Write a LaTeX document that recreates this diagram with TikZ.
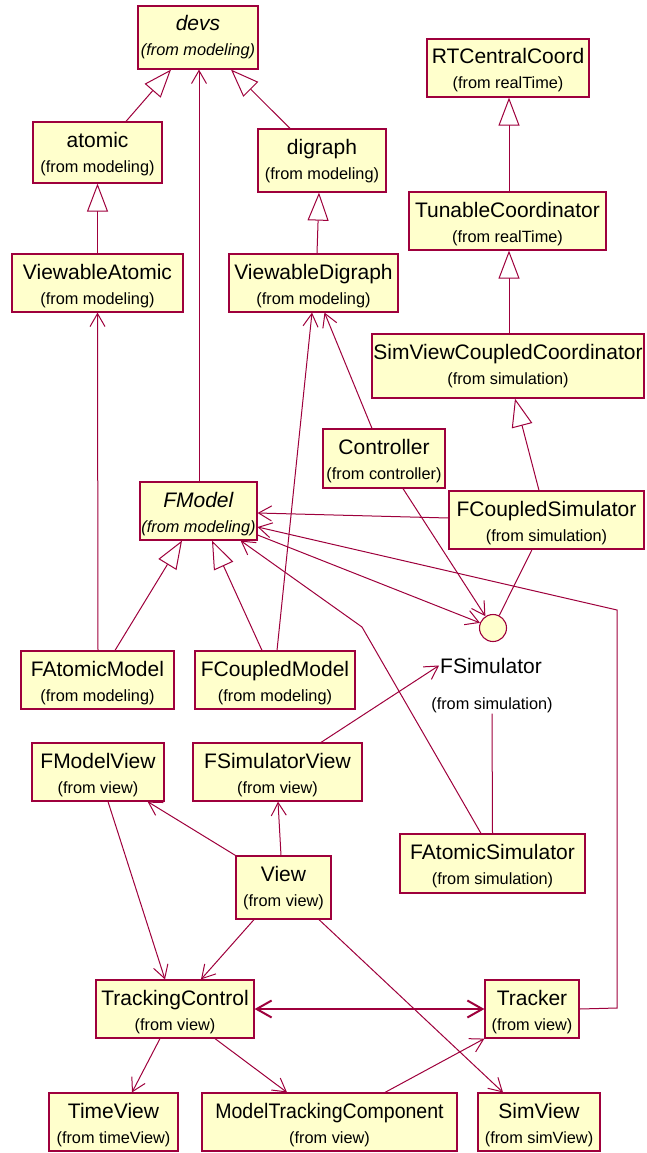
\documentclass[tikz,border=0pt]{standalone}
\usepackage{fontspec}
\setmainfont{Liberation Sans}
\usetikzlibrary{arrows.meta}
\definecolor{rline}{RGB}{158,0,60}
\definecolor{bfill}{RGB}{255,255,204}
\tikzset{
  cbox/.style={draw=rline, fill=bfill, line width=1.2pt, inner sep=0pt, rectangle},
  ttl/.style={anchor=base, inner sep=1pt, font=\fontsize{21}{24}\selectfont},
  subt/.style={anchor=base, inner sep=1pt, font=\fontsize{16.3}{19}\selectfont},
  conn/.style={draw=rline, line width=1pt},
  gen/.style={conn, -{Triangle[length=28pt,width=21pt,fill=white]}},
  assoc/.style={conn, -{Straight Barb[length=13pt,width=15pt]}},
  biassoc/.style={draw=rline, line width=2pt, {Straight Barb[length=15pt,width=17pt]}-{Straight Barb[length=15pt,width=17pt]}},
  lolli/.style={circle, draw=rline, fill=bfill, line width=1.1pt, minimum size=27pt, inner sep=0pt}
}
\newcommand\umlcls[7]{%
  \node[cbox, minimum width={(#4-#2)*1pt}, minimum height={(#5-#3)*1pt}] (#1) at ({(#2+#4)/2},{(#3+#5)/2}) {};
  \node[ttl] (#1-t) at ({(#2+#4)/2},{#3+25}) {#6};
  \node[subt] (#1-s) at ({(#2+#4)/2},{#3+50}) {#7};
}
\begin{document}
\begin{tikzpicture}[x=1pt,y=-1pt]
\useasboundingbox (0,0) rectangle (646,1153);
% classes
\umlcls{devs}{138}{6}{258}{69}{\textit{devs}}{\textit{(from modeling)}}
\umlcls{atomic}{33}{122}{162}{183}{atomic}{(from modeling)}
\umlcls{digraph}{258}{129}{386}{192}{digraph}{(from modeling)}
\umlcls{vatomic}{12}{254}{183}{312}{ViewableAtomic}{(from modeling)}
\umlcls{vdigraph}{229}{254}{398}{312}{ViewableDigraph}{(from modeling)}
\umlcls{rtcc}{427}{39}{589}{97}{RTCentralCoord}{(from realTime)}
\umlcls{tunable}{409}{192}{606}{250}{TunableCoordinator}{(from realTime)}
\umlcls{svcc}{372}{334}{644}{398}{SimViewCoupledCoordinator}{(from simulation)}
\umlcls{controller}{323}{429}{445}{488}{Controller}{(from controller)}
\umlcls{fmodel}{140}{482}{257}{540}{\textit{FModel}}{\textit{(from modeling)}}
\umlcls{fcsim}{449}{491}{644}{549}{FCoupledSimulator}{(from simulation)}
\umlcls{famodel}{21}{651}{174}{709}{FAtomicModel}{(from modeling)}
\umlcls{fcmodel}{195}{651}{355}{709}{FCoupledModel}{(from modeling)}
\umlcls{fmview}{32}{743}{164}{801}{FModelView}{(from view)}
\umlcls{fsview}{193}{743}{362}{801}{FSimulatorView}{(from view)}
\umlcls{fasim}{400}{834}{585}{893}{FAtomicSimulator}{(from simulation)}
\umlcls{view}{236}{856}{331}{919}{View}{(from view)}
\umlcls{tctrl}{96}{980}{254}{1038}{TrackingControl}{(from view)}
\umlcls{tracker}{485}{980}{579}{1038}{Tracker}{(from view)}
\umlcls{timeview}{49}{1093}{178}{1151}{TimeView}{(from timeView)}
\umlcls{mtc}{202}{1093}{457}{1151}{\scalebox{0.93}[1]{ModelTrackingComponent}}{(from view)}
\umlcls{simview}{478}{1093}{600}{1151}{SimView}{(from simView)}
% interface FSimulator
\node[lolli] (circ) at (493,628) {};
\node[ttl] (fsim) at (491,673) {FSimulator};
\node[subt] (fsims) at (492,709) {(from simulation)};
% bend points
\coordinate (trk1) at (617,1008);
\coordinate (trk2) at (617,610);
\coordinate (fas1) at (362,627);
% generalizations
\draw[gen] ([xshift=28.5pt]atomic.north) -- ([xshift=-27pt]devs.south);
\draw[gen] ([xshift=-32pt]digraph.north) -- ([xshift=33pt]devs.south);
\draw[gen] (vatomic.north) -- (atomic.south);
\draw[gen] ([xshift=3.5pt]vdigraph.north) -- ([xshift=-3pt]digraph.south);
\draw[gen] ([xshift=1.5pt]tunable.north) -- ([xshift=1pt]rtcc.south);
\draw[gen] ([xshift=1pt]svcc.north) -- ([xshift=1.5pt]tunable.south);
\draw[gen] ([xshift=-7.5pt]fcsim.north) -- ([xshift=7pt]svcc.south);
\draw[gen] ([xshift=17.5pt]famodel.north) -- ([xshift=-16.5pt]fmodel.south);
\draw[gen] ([xshift=-13pt]fcmodel.north) -- ([xshift=13.5pt]fmodel.south);
% associations
\draw[assoc] ([xshift=0.5pt]fmodel.north) -- ([xshift=1pt]devs.south);
\draw[assoc] ([xshift=0.5pt]famodel.north) -- (vatomic.south);
\draw[assoc] ([xshift=2pt]fcmodel.north) -- ([xshift=-1.5pt]vdigraph.south);
\draw[assoc] ([xshift=-12pt]controller.north) -- ([xshift=11pt]vdigraph.south);
\draw[assoc] ([yshift=2pt]fcsim.west) -- ([yshift=-2pt]fmodel.east);
\draw[assoc] (tracker.east) -- (trk1) -- (trk2) -- ([yshift=-16pt]fmodel.east);
\draw[assoc] ([yshift=-24pt]fmodel.east) -- (circ);
\draw[assoc] ([xshift=19pt]controller.south) -- (circ);
\draw[conn] ([xshift=-14.5pt]fcsim.south) -- (circ);
\draw[assoc] ([xshift=-11.5pt]fasim.north) -- (fas1) -- ([xshift=-17pt]fmodel.south east);
\draw[conn] (fasim.north) -- (fsims.south);
\draw[assoc] ([xshift=43.5pt]fsview.north) -- (fsim.west);
\draw[assoc] (view.north west) -- ([xshift=-17pt]fmview.south east);
\draw[assoc] ([xshift=-2.5pt]view.north) -- ([xshift=0.5pt]fsview.south);
\draw[assoc] ([xshift=10pt]fmview.south) -- ([xshift=-10pt]tctrl.north);
\draw[assoc] ([xshift=-29.5pt]view.south) -- ([xshift=26pt]tctrl.north);
\draw[assoc] ([xshift=35.5pt]view.south) -- ([xshift=-36pt]simview.north);
\draw[biassoc] (tctrl.east) -- (tracker.west);
\draw[assoc] ([xshift=-15pt]tctrl.south) -- ([xshift=18.5pt]timeview.north);
\draw[assoc] ([xshift=40pt]tctrl.south) -- ([xshift=-42.5pt]mtc.north);
\draw[assoc] ([xshift=55.5pt]mtc.north) -- (tracker.south west);
\end{tikzpicture}
\end{document}
